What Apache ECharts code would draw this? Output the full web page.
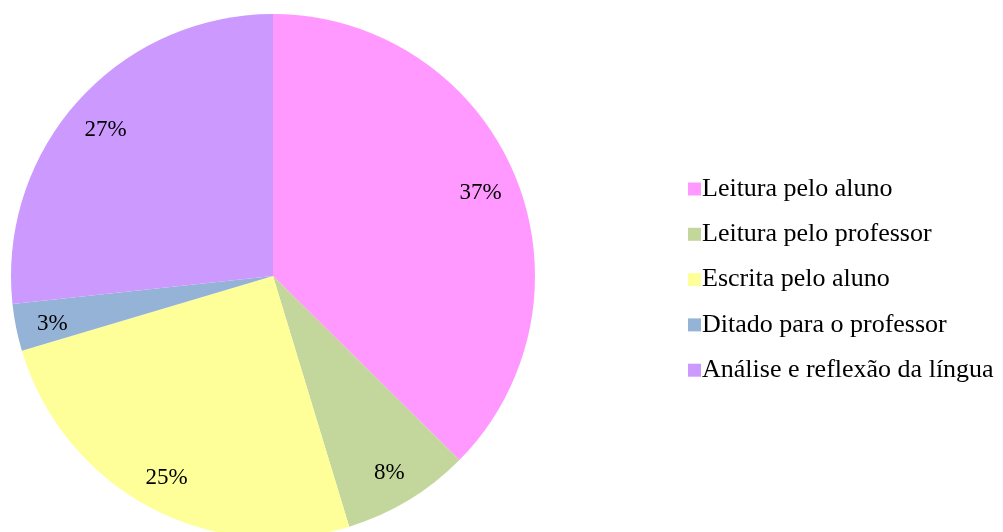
<!DOCTYPE html>
<html>
<head>
<meta charset="utf-8">
<script src="https://cdn.jsdelivr.net/npm/echarts@6/dist/echarts.min.js"></script>
<style>
  html, body { margin: 0; padding: 0; background: #ffffff; }
  #main { width: 1003px; height: 532px; }
</style>
</head>
<body>
<div id="main"></div>
<script>
// data
const categories = ['Leitura pelo aluno', 'Leitura pelo professor', 'Escrita pelo aluno', 'Ditado para o professor', 'Análise e reflexão da língua'];
const values = [37.4, 7.9, 25.1, 2.9, 26.7];
const labels = ['37%', '8%', '25%', '3%', '27%'];
const colors = ['#FF99FF', '#C3D69B', '#FFFF99', '#95B3D7', '#CC99FF'];

const chart = echarts.init(document.getElementById('main'));

const font = '"Liberation Serif", "Times New Roman", serif';

const option = {
    backgroundColor: '#ffffff',
    animation: false,
    color: colors,
    legend: {
        orient: 'vertical',
        left: 683,
        top: 171,
        itemWidth: 13,
        itemHeight: 13,
        itemGap: 19.3,
        icon: 'rect',
        textStyle: {
            fontFamily: font,
            fontSize: 26,
            color: '#000000',
            padding: [0, 0, 0, -4],
            lineHeight: 26
        },
        data: categories
    },
    series: [
        {
            name: 'main',
            type: 'pie',
            center: [273, 276],
            radius: [0, 262],
            startAngle: 90,
            label: { show: false },
            labelLine: { show: false },
            emphasis: { disabled: true },
            data: categories.map((c, i) => ({ name: c, value: values[i] }))
        },
        {
            // transparent ring, only used to place the percentage labels
            name: 'labels',
            type: 'pie',
            center: [273, 280],
            radius: [192, 252],
            startAngle: 90,
            silent: true,
            itemStyle: { color: 'rgba(0,0,0,0)' },
            label: {
                show: true,
                position: 'inside',
                fontFamily: font,
                fontSize: 23,
                color: '#000000',
                formatter: p => labels[p.dataIndex]
            },
            labelLine: { show: false },
            emphasis: { disabled: true },
            data: categories.map((c, i) => ({ name: c + ' ', value: values[i] }))
        }
    ]
};

chart.setOption(option);
</script>
</body>
</html>
